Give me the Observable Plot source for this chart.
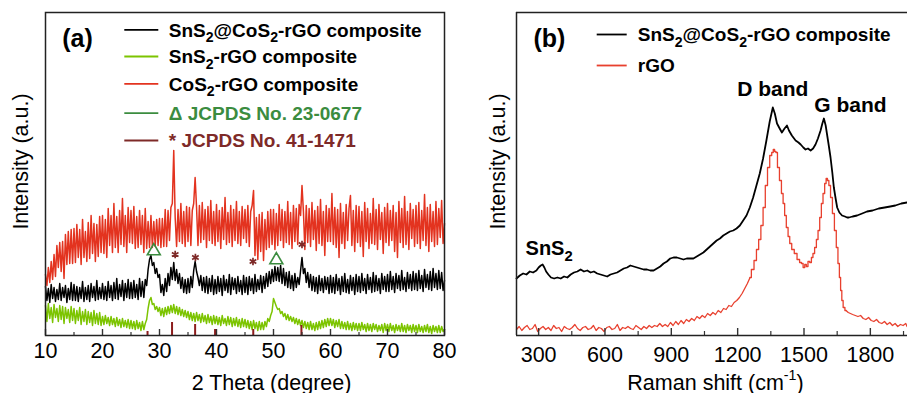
<!DOCTYPE html>
<html><head><meta charset="utf-8">
<script src="https://cdn.jsdelivr.net/npm/d3@7"></script>
<script src="https://cdn.jsdelivr.net/npm/@observablehq/plot@0.6"></script>
<style>
html,body{margin:0;padding:0;background:#fff;overflow:hidden}
#wrap{position:relative;width:907px;height:393px;font-family:"Liberation Sans",Arial,sans-serif}
#wrap svg{position:absolute;top:0}
</style></head><body><div id="wrap"></div>
<script>
// ---------------- Panel (a): XRD, 2θ grid 10–80° every 0.25° ----------------
const theta = d3.range(281).map(i => 10 + i * 0.25);
// CoS2-rGO composite (red)
const xrdCoS2 = [
 61,50,68,53,74,56,81,59,90,68,93,64,94,57,101,71,104,72,106,72,
 107,73,111,78,106,71,116,78,104,74,113,77,120,82,112,74,111,79,119,83,
 120,82,116,78,127,90,120,83,132,88,119,83,125,91,137,89,120,83,128,93,
 125,92,129,87,119,88,125,91,120,83,127,87,114,88,120,88,114,89,116,90,
 117,88,117,89,126,89,125,95,128,132,185,118,89,126,94,132,92,124,89,129,
 94,128,90,125,132,158,128,90,130,93,133,96,126,88,129,95,135,92,124,90,
 131,94,125,87,128,96,138,91,123,93,130,89,126,95,134,92,124,90,129,97,
 126,93,130,89,124,130,145,80,118,76,121,84,123,75,116,86,124,88,126,91,
 126,86,122,90,131,95,126,88,124,93,134,91,123,87,130,94,127,91,131,120,
 150,124,86,130,93,127,89,133,96,125,85,129,92,136,90,124,80,130,94,127,
 94,142,91,128,88,126,78,132,92,123,87,131,95,127,140,90,125,84,130,93,
 129,89,124,79,133,94,127,87,122,92,137,91,126,86,131,96,123,82,128,93,
 132,90,125,95,130,84,123,78,134,93,127,88,139,91,124,86,132,97,126,89,
 130,92,133,87,125,95,141,90,128,84,131,94,124,89,134,91,127,98,135,92,
 112];
// SnS2@CoS2-rGO composite (black)
const xrdComposite = [
 49,35,47,33,51,37,48,34,46,36,52,35,48,38,50,33,47,36,53,35,
 51,35,49,34,48,37,54,34,48,36,50,34,52,38,49,35,55,36,48,37,
 52,36,49,35,54,38,50,35,53,37,57,36,51,39,55,35,52,38,56,37,
 53,37,55,38,51,36,57,39,54,38,56,50,66,76,80,70,73,62,67,58,
 61,43,51,40,57,44,62,50,68,56,73,55,66,52,62,47,58,43,56,42,
 57,43,59,48,65,74,64,58,50,60,45,58,43,59,42,57,44,60,41,56,
 42,59,44,57,40,60,45,56,43,61,41,58,46,57,42,59,44,55,41,60,
 43,58,41,59,45,57,42,61,44,56,46,60,43,59,47,62,49,64,52,66,
 54,69,55,68,54,70,52,67,50,63,48,64,47,60,45,62,48,58,51,65,
 78,62,67,53,63,48,61,45,59,44,58,42,60,45,57,43,59,46,58,42,
 60,43,58,42,61,45,57,41,59,44,62,43,56,42,60,45,58,41,61,44,
 59,43,62,45,57,42,61,46,58,43,63,44,60,45,57,42,62,46,59,44,
 61,44,64,46,59,43,62,47,60,45,65,46,58,44,63,47,61,45,64,46,
 62,45,65,47,60,44,66,48,61,46,64,45,67,48,62,46,65,47,63,45,
 55];
// SnS2-rGO composite (green)
const xrdSnS2 = [
 30,14,32,17,28,13,31,18,27,14,30,16,29,12,28,17,26,13,29,15,
 27,12,25,15,28,11,24,14,26,11,24,13,23,10,25,12,22,11,23,10,
 19,11,20,12,18,10,19,11,17,9,18,10,16,8,17,9,15,8,16,7,
 15,7,14,6,15,7,13,5,14,6,12,16,27,35,38,31,32,26,29,24,
 28,20,27,19,28,21,29,22,30,23,31,22,29,21,28,20,26,19,25,18,
 24,16,23,15,22,14,23,15,21,13,22,14,20,12,21,13,19,11,20,12,
 19,11,18,10,20,12,17,10,19,11,18,9,17,10,18,9,16,8,17,9,
 16,8,15,7,14,6,15,7,13,5,14,6,13,6,14,9,17,14,20,24,
 37,33,29,26,27,22,24,19,22,16,21,15,19,14,18,12,17,11,16,10,
 15,8,14,7,13,6,14,6,12,5,13,6,14,7,15,8,16,9,17,10,
 17,10,16,8,15,9,16,7,14,7,13,6,14,6,12,5,13,6,12,5,
 12,5,13,6,11,4,12,5,11,4,12,6,11,4,10,5,11,3,12,5,
 11,4,12,5,10,3,11,5,10,4,12,4,10,3,11,5,10,3,11,4,
 10,3,11,4,9,3,10,4,11,3,9,2,10,4,9,3,10,3,9,4,
 6];
// JCPDS 41-1471 reference sticks
const stickTheta = [27.9, 32.2, 36.25, 39.75, 46.45, 54.9];
const stickHeight = [4, 13, 11, 6, 6, 10];
// peak markers
const triTheta = [29.0, 50.5];
const triY = [84.5, 75.5];
const starTheta = [32.75, 36.3, 46.4, 55.0];
const starY = [81, 78, 74, 91];
const ticksMajorA = [10, 20, 30, 40, 50, 60, 70, 80];
const ticksMinorA = [15, 25, 35, 45, 55, 65, 75];
const legendALabels = ["SnS₂@CoS₂-rGO composite", "SnS₂-rGO composite", "CoS₂-rGO composite", "Δ JCPDS No. 23-0677", "* JCPDS No. 41-1471"];

// ---------------- Panel (b): Raman ----------------
const ramanShiftComposite = [
 200,215,230,245,260,275,290,300,310,318,
 326,334,344,356,370,385,400,415,430,445,
 460,475,490,505,520,535,550,565,580,595,
 610,625,640,655,670,685,700,715,730,745,
 760,775,790,805,820,835,850,865,880,895,
 910,925,940,955,970,985,1000,1015,1030,1045,
 1060,1075,1090,1105,1120,1135,1150,1165,1180,1195,
 1210,1225,1240,1255,1270,1285,1300,1315,1330,1345,
 1359,1368,1378,1390,1400,1412,1423,1432,1445,1462,
 1475,1485,1497,1507,1518,1530,1541,1552,1563,1575,
 1583,1590,1598,1605,1612,1620,1628,1635,1643,1650,
 1660,1672,1685,1695,1703,1720,1740,1763,1785,1810,
 1838,1865,1890,1913,1940,1966];
const ramanComposite = [
 57,60,62,61,64,63,65,68,70,71,
 68,64,61,58,57,58,57,59,58,61,
 63,64,66,64,65,63,64,62,61,60,
 59,61,62,63,65,67,68,70,69,68,
 67,66,66,65,65,67,69,72,74,77,
 78,78,77,76,77,77,77,79,81,83,
 86,89,92,95,97,100,102,104,105,107,
 110,115,120,128,138,150,162,177,195,214,
 228,222,212,207,203,207,210,205,200,195,
 193,191,188,186,187,185,187,191,197,205,
 212,217,210,200,190,178,163,148,137,128,
 123,120,119,118,118,119,120,122,124,125,
 127,128,129,130,132,133];
const ramanShiftRGO = [
 200,212,224,236,248,260,272,284,296,308,
 320,332,344,356,368,380,392,404,416,428,
 440,452,464,476,488,500,512,524,536,548,
 560,572,584,596,608,620,632,644,656,668,
 680,692,704,716,728,740,752,764,776,788,
 800,812,824,836,848,860,872,884,896,908,
 920,932,944,956,968,980,992,1004,1016,1028,
 1040,1052,1064,1076,1088,1100,1112,1124,1136,1148,
 1160,1172,1184,1196,1208,1220,1232,1244,1256,1268,
 1280,1290,1300,1310,1320,1330,1340,1350,1358,1364,
 1370,1376,1384,1394,1402,1409,1416,1424,1432,1439,
 1450,1462,1475,1485,1492,1500,1507,1514,1522,1530,
 1537,1544,1552,1560,1567,1575,1582,1590,1597,1603,
 1609,1616,1624,1633,1642,1650,1657,1663,1668,1674,
 1680,1690,1700,1710,1720,1732,1744,1756,1768,1780,
 1792,1804,1816,1828,1840,1852,1864,1876,1888,1900,
 1912,1924,1936,1948,1960,1966];
const ramanRGO = [
 6,9,5,8,10,6,7,11,4,7,
 9,6,8,5,10,7,8,4,9,7,
 6,8,11,7,5,8,9,6,7,10,
 5,8,7,4,8,9,6,7,11,5,
 8,7,9,7,6,10,8,6,9,7,
 10,8,10,9,12,9,11,9,13,10,
 14,11,15,12,16,14,17,15,19,17,
 20,18,22,20,23,21,25,23,27,26,
 30,29,33,35,38,42,47,52,58,66,
 75,86,96,110,128,150,168,180,183,186,
 184,183,168,155,142,132,120,108,99,92,
 86,82,76,73,72,68,71,69,74,73,
 78,82,88,96,105,118,132,142,152,157,
 155,150,138,122,105,88,72,58,45,35,
 28,25,23,22,21,20,19,20,17,16,
 18,15,14,16,13,12,14,11,13,10,
 12,9,11,10,12,9];
const ticksMajorB = [300, 600, 900, 1200, 1500, 1800];
const ticksMinorB = [450, 750, 1050, 1350, 1650, 1950];
const legendBLabels = ["SnS₂@CoS₂-rGO composite", "rGO"];
const bandLabels = ["D band", "G band"];
const bandShift = [1359, 1710];
const bandY = [240, 223.5];

// sanity
[[xrdCoS2,281],[xrdComposite,281],[xrdSnS2,281],[ramanComposite,ramanShiftComposite.length],[ramanRGO,ramanShiftRGO.length]]
  .forEach(([a,n],k)=>{ if(a.length!==n) throw new Error("length mismatch "+k+": "+a.length+" vs "+n); });

// ---------------- styling / layout ----------------
const FONT = '"Liberation Sans", Arial, Helvetica, sans-serif';
const RED = "#e3331f", LIME = "#7cc400", DKGREEN = "#3b8c3f", DKRED = "#7e2a28", STICK = "#8c1c1c", FRAME = "#222";
const RAMAN_RED = "#e8402e";
const H = 393, mT = 12, mB = 58;
const yDom = [0, 323];
const PA = {W: 470, mL: 45, mR: 26, x: [10, 80]};
const PB = {W: 437, mL: 46, mR: 0, x: [200, 1968]};
const pxX = (P, px) => P.x[0] + (px - P.mL) / (P.W - P.mL - P.mR) * (P.x[1] - P.x[0]);
const pxY = py => yDom[0] + (H - mB - py) / (H - mB - mT) * (yDom[1] - yDom[0]);

const xrd = theta.map((t, i) => ({t, red: xrdCoS2[i], black: xrdComposite[i], green: xrdSnS2[i]}));
const sticks = stickTheta.map((t, i) => ({t, h: stickHeight[i]}));
const tris = triTheta.map((t, i) => ({t, y: triY[i]}));
const stars = starTheta.map((t, i) => ({t, y: starY[i]}));
const rc = ramanShiftComposite.map((s, i) => ({s, y: ramanComposite[i]}));
const rg = ramanShiftRGO.map((s, i) => ({s, y: ramanRGO[i]}));

const legA = {rows: [29.3, 56, 83.3, 112.7, 140], sw: [124.3, 158.3], tx: 168.3,
  stroke: ["#000", LIME, RED, DKGREEN, DKRED], fill: ["#000", "#000", "#000", DKGREEN, DKRED]};
const legB = {rows: [34, 65], sw: [596.7, 626.7], tx: 637.3, stroke: ["#000", RAMAN_RED]};

function legendMarks(P, L, labels, fills, offsetX) {
  return labels.flatMap((lab, i) => [
    Plot.ruleY([pxY(L.rows[i])], {x1: pxX(P, L.sw[0] - offsetX), x2: pxX(P, L.sw[1] - offsetX), stroke: L.stroke[i], strokeWidth: 1.8}),
    Plot.text([lab], {frameAnchor: "top-left", dx: L.tx - offsetX - P.mL, dy: L.rows[i] + 6.8 - mT,
      textAnchor: "start", lineAnchor: "bottom", fontSize: 19, fontWeight: "bold", fill: fills[i], text: d => d})
  ]);
}

const chartA = Plot.plot({
  width: PA.W, height: H, marginLeft: PA.mL, marginRight: PA.mR, marginTop: mT, marginBottom: mB,
  style: {fontFamily: FONT, fontSize: "21px", background: "transparent", overflow: "visible"},
  x: {domain: PA.x, axis: null},
  y: {domain: yDom, axis: null},
  marks: [
    Plot.line(xrd, {x: "t", y: "red", stroke: RED, strokeWidth: 1.5}),
    Plot.line(xrd, {x: "t", y: "green", stroke: LIME, strokeWidth: 1.5}),
    Plot.line(xrd, {x: "t", y: "black", stroke: "#000", strokeWidth: 1.5}),
    Plot.ruleX(sticks, {x: "t", y1: 0, y2: "h", stroke: STICK, strokeWidth: 2}),
    Plot.ruleX(ticksMajorA, {x: d => d, y1: 0, y2: 6, stroke: "#333", strokeWidth: 1.4}),
    Plot.ruleX(ticksMinorA, {x: d => d, y1: 0, y2: 3, stroke: "#333", strokeWidth: 1.2}),
    Plot.frame({stroke: FRAME, strokeWidth: 1.5}),
    Plot.dot(tris, {x: "t", y: "y", symbol: "triangle", r: 4.8, stroke: DKGREEN, fill: "none", strokeWidth: 1.6}),
    Plot.dot(stars, {x: "t", y: "y", symbol: "asterisk", r: 3.6, stroke: DKRED, strokeWidth: 1.7}),
    Plot.text(ticksMajorA, {x: d => d, frameAnchor: "bottom", lineAnchor: "bottom", textAnchor: "middle", dy: 22, fontSize: 21.5, text: d => String(d)}),
    Plot.text(["2 Theta (degree)"], {frameAnchor: "bottom", lineAnchor: "bottom", textAnchor: "middle", dx: 26.5, dy: 54, fontSize: 21.5, text: d => d}),
    Plot.text(["Intensity (a.u.)"], {frameAnchor: "left", rotate: -90, lineAnchor: "bottom", textAnchor: "middle", dx: 27.3 - PA.mL, dy: 161 - (mT + (H - mB)) / 2, fontSize: 21.5, text: d => d}),
    Plot.text(["(a)"], {frameAnchor: "top-left", textAnchor: "start", lineAnchor: "bottom", dx: 61.7 - PA.mL, dy: 46.5 - mT, fontSize: 25, fontWeight: "bold", text: d => d}),
    ...legendMarks(PA, legA, legendALabels, legA.fill, 0)
  ]
});

const offB = 470;
const chartB = Plot.plot({
  width: PB.W, height: H, marginLeft: PB.mL, marginRight: PB.mR, marginTop: mT, marginBottom: mB,
  style: {fontFamily: FONT, fontSize: "21px", background: "transparent", overflow: "visible"},
  x: {domain: PB.x, axis: null},
  y: {domain: yDom, axis: null},
  marks: [
    // rGO: noisy baseline drawn linear, steep peak region drawn as the stair-stepped trace
    Plot.line(rg, {filter: d => d.s <= 1256, x: "s", y: "y", stroke: RAMAN_RED, strokeWidth: 1.3}),
    Plot.line(rg, {filter: d => d.s >= 1256 && d.s <= 1690, x: "s", y: "y", stroke: RAMAN_RED, strokeWidth: 1.3, curve: "step"}),
    Plot.line(rg, {filter: d => d.s >= 1690, x: "s", y: "y", stroke: RAMAN_RED, strokeWidth: 1.3}),
    Plot.line(rc, {x: "s", y: "y", stroke: "#000", strokeWidth: 1.8}),
    Plot.ruleX(ticksMajorB, {x: d => d, y1: 0, y2: 7, stroke: "#333", strokeWidth: 1.4}),
    Plot.ruleX(ticksMinorB, {x: d => d, y1: 0, y2: 4, stroke: "#333", strokeWidth: 1.2}),
    Plot.ruleY(yDom, {stroke: FRAME, strokeWidth: 1.5}),
    Plot.ruleX([PB.x[0]], {stroke: FRAME, strokeWidth: 1.5}),
    Plot.text(ticksMajorB, {x: d => d, frameAnchor: "bottom", lineAnchor: "bottom", textAnchor: "middle", dy: 26.5, fontSize: 21.5, text: d => String(d)}),
    Plot.text(["Raman shift (cm⁻¹)"], {frameAnchor: "bottom", lineAnchor: "bottom", textAnchor: "middle", dx: 3.5, dy: 54, fontSize: 21.5, text: d => d}),
    Plot.text(["Intensity (a.u.)"], {frameAnchor: "left", rotate: -90, lineAnchor: "bottom", textAnchor: "middle", dx: 504 - offB - PB.mL, dy: 161 - (mT + (H - mB)) / 2, fontSize: 21.5, text: d => d}),
    Plot.text(["(b)"], {frameAnchor: "top-left", textAnchor: "start", lineAnchor: "bottom", dx: 533 - offB - PB.mL, dy: 46.5 - mT, fontSize: 25, fontWeight: "bold", text: d => d}),
    Plot.text(bandLabels, {x: (d, i) => bandShift[i], y: (d, i) => bandY[i], textAnchor: "middle", lineAnchor: "bottom", fontSize: 21, fontWeight: "bold", text: d => d}),
    Plot.text(["SnS₂"], {x: 241, y: 81, textAnchor: "start", lineAnchor: "bottom", fontSize: 20, fontWeight: "bold", text: d => d}),
    ...legendMarks(PB, legB, legendBLabels, ["#000", "#000"], offB)
  ]
});

const wrap = document.getElementById("wrap");
chartA.style.left = "0px";
chartB.style.left = offB + "px";
wrap.appendChild(chartA);
wrap.appendChild(chartB);

// render subscripts / superscripts as real tspans
function richText(svg) {
  const NS = "http://www.w3.org/2000/svg";
  svg.querySelectorAll("text").forEach(t => {
    const nodes = t.querySelector("tspan") ? [...t.querySelectorAll("tspan")] : [t];
    nodes.forEach(n => {
      const s = n.textContent;
      if (!/[₂⁻¹]/.test(s)) return;
      const fs = parseFloat(getComputedStyle(n).fontSize) || 20;
      const parts = s.split(/(₂|⁻¹)/).filter(p => p !== "");
      n.textContent = "";
      let shift = 0;
      for (const p of parts) {
        const ts = document.createElementNS(NS, "tspan");
        if (p === "₂") {
          ts.textContent = "2"; ts.setAttribute("font-size", (fs * 0.74).toFixed(1));
          const d = fs * 0.3; ts.setAttribute("dy", (d - shift).toFixed(2)); shift = d;
        } else if (p === "⁻¹") {
          ts.textContent = "-1"; ts.setAttribute("font-size", (fs * 0.66).toFixed(1));
          const d = -fs * 0.42; ts.setAttribute("dy", (d - shift).toFixed(2)); shift = d;
        } else {
          ts.textContent = p; if (shift) ts.setAttribute("dy", (-shift).toFixed(2)); shift = 0;
        }
        n.appendChild(ts);
      }
    });
  });
}
richText(chartA);
richText(chartB);
</script></body></html>
